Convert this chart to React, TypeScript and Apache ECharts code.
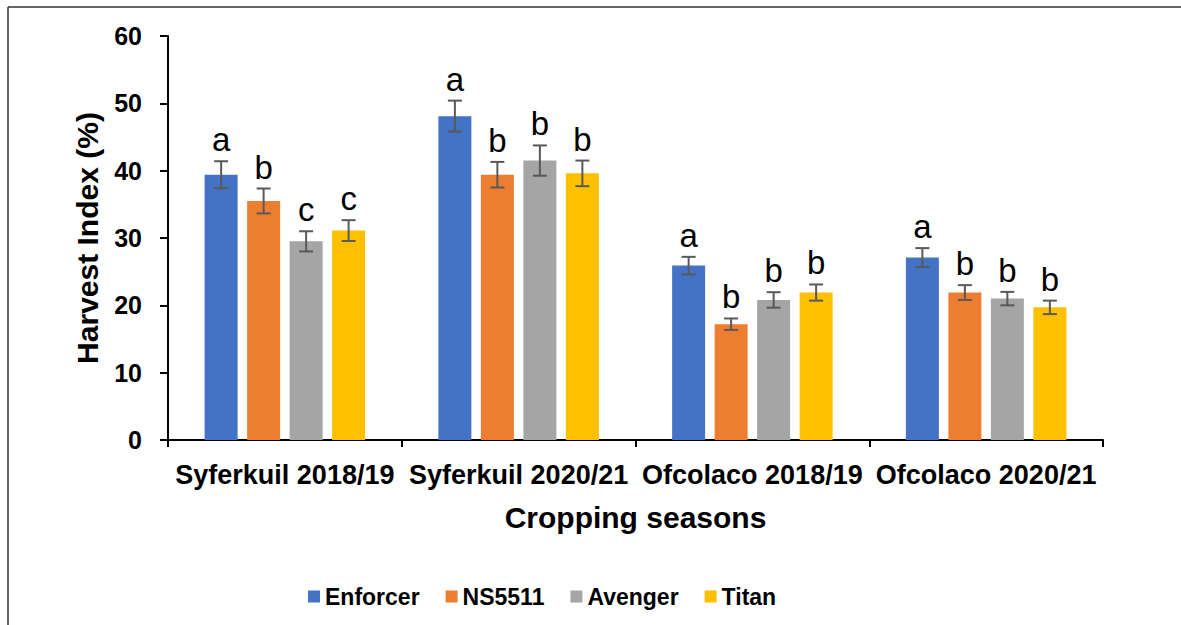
import React, { useEffect, useRef } from "react";
import * as echarts from "echarts";

const categories = ["Syferkuil 2018/19", "Syferkuil 2020/21", "Ofcolaco 2018/19", "Ofcolaco 2020/21"];
const seriesNames = ["Enforcer", "NS5511", "Avenger", "Titan"];
const enforcer = [39.4, 48.1, 25.9, 27.1];
const ns5511 = [35.5, 39.4, 17.2, 21.9];
const avenger = [29.5, 41.5, 20.8, 21.0];
const titan = [31.1, 39.6, 21.9, 19.7];
const enforcerErr = [2.0, 2.3, 1.3, 1.4];
const ns5511Err = [1.85, 1.9, 0.85, 1.1];
const avengerErr = [1.5, 2.25, 1.15, 1.0];
const titanErr = [1.55, 1.9, 1.2, 1.0];
const enforcerLetters = ["a", "a", "a", "a"];
const ns5511Letters = ["b", "b", "b", "b"];
const avengerLetters = ["c", "b", "b", "b"];
const titanLetters = ["c", "b", "b", "b"];
const yTicks = { min: 0, max: 60, interval: 10 };

const colors = ["#4472C4", "#ED7D31", "#A5A5A5", "#FFC000"];
const FONT = "Arial, 'Liberation Sans', sans-serif";
const BAR_W = 33;
const BAR_GAP = 9.5;

export default function App() {
  const ref = useRef<HTMLDivElement>(null);
  useEffect(() => {
    if (!ref.current) return;
    const chart = echarts.init(ref.current, null, { renderer: "svg" });
    const values = [enforcer, ns5511, avenger, titan];
    const errs = [enforcerErr, ns5511Err, avengerErr, titanErr];
    const letters = [enforcerLetters, ns5511Letters, avengerLetters, titanLetters];

    const barSeries = values.map((v, i) => ({
      name: seriesNames[i],
      type: "bar",
      data: v,
      barWidth: BAR_W,
      barGap: (BAR_GAP / BAR_W) * 100 + "%",
      itemStyle: { color: colors[i] },
    }));

    const errSeries = values.map((v, i) => ({
      type: "custom",
      name: "err" + i,
      silent: true,
      z: 5,
      data: v.map((val, k) => [k, val, errs[i][k]]),
      renderItem: (params: any, api: any) => {
        const k = api.value(0);
        const val = api.value(1);
        const e = api.value(2);
        const letter = letters[i][params.dataIndex];
        const offset = (i - 1.5) * (BAR_W + BAR_GAP);
        const top = api.coord([k, val + e]);
        const bot = api.coord([k, val - e]);
        const x = top[0] + offset;
        const cap = 7;
        const ls = { stroke: "#595959", lineWidth: 2 };
        return {
          type: "group",
          children: [
            { type: "line", shape: { x1: x, y1: top[1], x2: x, y2: bot[1] }, style: ls },
            { type: "line", shape: { x1: x - cap, y1: top[1], x2: x + cap, y2: top[1] }, style: ls },
            { type: "line", shape: { x1: x - cap, y1: bot[1], x2: x + cap, y2: bot[1] }, style: ls },
            {
              type: "text",
              style: {
                text: letter,
                x: x,
                y: top[1] - 5,
                align: "center",
                verticalAlign: "bottom",
                font: "33px " + FONT,
                fill: "#000",
              },
            },
          ],
        };
      },
    }));

    chart.setOption({
      animation: false,
      textStyle: { fontFamily: FONT },
      grid: { left: 168, right: 78, top: 36, bottom: 185, containLabel: false },
      legend: {
        data: seriesNames,
        top: 580,
        left: 303,
        itemWidth: 12,
        itemHeight: 12,
        itemGap: 26,
        icon: "rect",
        textStyle: { fontSize: 23, fontWeight: "bold", color: "#000", fontFamily: FONT },
      },
      xAxis: {
        type: "category",
        data: categories,
        name: "Cropping seasons",
        nameLocation: "middle",
        nameGap: 62,
        nameTextStyle: { fontSize: 30, fontWeight: "bold", color: "#000", fontFamily: FONT },
        axisLine: { lineStyle: { color: "#000", width: 2 } },
        axisTick: { show: true, length: 7, alignWithLabel: false, lineStyle: { color: "#000", width: 2 } },
        axisLabel: { fontSize: 27, fontWeight: "bold", color: "#000", margin: 21, interval: 0, fontFamily: FONT },
      },
      yAxis: {
        type: "value",
        min: yTicks.min,
        max: yTicks.max,
        interval: yTicks.interval,
        name: "Harvest Index (%)",
        nameLocation: "middle",
        nameGap: 66,
        nameTextStyle: { fontSize: 30, fontWeight: "bold", color: "#000", fontFamily: FONT },
        axisLine: { show: true, lineStyle: { color: "#000", width: 2 } },
        axisTick: { show: true, length: 8, inside: false, lineStyle: { color: "#000", width: 2 } },
        splitLine: { show: false },
        axisLabel: { fontSize: 25, fontWeight: "bold", color: "#000", margin: 26, fontFamily: FONT },
      },
      graphic: [
        { type: "line", shape: { x1: 8, y1: 7, x2: 1181, y2: 7 }, style: { stroke: "#333", lineWidth: 1.5 } },
        { type: "line", shape: { x1: 8, y1: 7, x2: 8, y2: 625 }, style: { stroke: "#333", lineWidth: 1.5 } },
      ],
      series: [...barSeries, ...errSeries],
    });
    return () => chart.dispose();
  }, []);
  return (
    <div
      ref={ref}
      style={{ position: "fixed", left: 0, top: 0, width: 1181, height: 625, background: "#fff" }}
    />
  );
}
